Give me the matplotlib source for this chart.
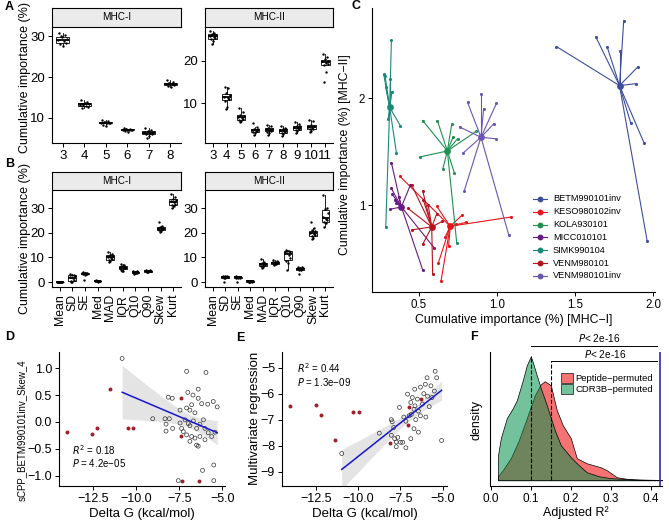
import numpy as np
import matplotlib
matplotlib.use("Agg")
import matplotlib.pyplot as plt
from matplotlib.lines import Line2D
from matplotlib.patches import Patch

plt.rcParams['font.family'] = ['Liberation Sans', 'DejaVu Sans']
plt.rcParams['axes.linewidth'] = 0.8

# ---------------- data ----------------
a1_cats = ["3", "4", "5", "6", "7", "8"]
a1_vals = [
    [30.8, 30.2, 29.7, 29.2, 29.0, 28.7, 28.3, 28.0, 27.5, 29.9],
    [14.3, 13.8, 13.5, 13.4, 13.2, 13.0, 12.8, 12.5, 13.6, 13.1],
    [9.5, 9.2, 9.0, 8.9, 8.9, 8.8, 8.7, 8.2, 8.0, 9.1],
    [7.6, 7.3, 7.2, 7.1, 7.1, 7.0, 7.0, 6.8, 6.6, 7.2],
    [7.5, 7.0, 6.8, 6.6, 6.5, 6.4, 6.2, 6.0, 5.5, 5.2],
    [19.2, 18.8, 18.6, 18.4, 18.3, 18.2, 18.0, 17.8, 17.5, 18.5],
]
a2_cats = ["3", "4", "5", "6", "7", "8", "9", "10", "11"]
a2_vals = [
    [26.9, 26.5, 26.2, 26.0, 25.8, 25.6, 25.4, 25.0, 24.5, 24.0],
    [13.8, 13.5, 12.3, 11.8, 11.5, 11.2, 11.0, 10.6, 9.0, 8.7],
    [8.9, 7.8, 7.3, 7.0, 6.8, 6.5, 6.2, 6.0, 5.7, 5.5],
    [5.4, 4.3, 4.0, 3.8, 3.7, 3.5, 3.4, 3.2, 3.0, 2.6],
    [4.8, 4.5, 4.2, 4.0, 3.8, 3.7, 3.5, 3.3, 3.0, 2.5],
    [4.6, 4.2, 4.0, 3.8, 3.6, 3.4, 3.2, 3.0, 2.7, 2.2],
    [5.6, 5.0, 4.7, 4.5, 4.3, 4.1, 3.9, 3.7, 3.5, 3.0],
    [6.0, 5.8, 4.8, 4.6, 4.4, 4.2, 4.0, 3.8, 3.5, 3.2],
    [21.5, 20.8, 20.3, 20.0, 19.8, 19.5, 19.2, 19.0, 17.2, 14.9],
]
b_cats = ["Mean", "SD", "SE", "Med", "MAD", "IQR", "Q10", "Q90", "Skew", "Kurt"]
b1_vals = [
    [0.1, 0.05, 0.0, 0.0, 0.0, 0.0, 0.0, 0.0, -0.05, 0.1],
    [3.2, 3.0, 2.8, 2.6, 2.0, 1.5, 0.8, 0.4, 0.2, 0.1],
    [3.9, 3.7, 3.6, 3.5, 3.5, 3.4, 3.3, 3.2, 3.0, 1.0],
    [0.8, 0.6, 0.5, 0.5, 0.4, 0.4, 0.3, 0.3, 0.2, 0.6],
    [12.3, 11.5, 10.9, 10.5, 10.2, 9.8, 9.5, 9.0, 8.6, 8.0],
    [7.5, 7.0, 6.5, 6.2, 6.0, 5.8, 5.5, 5.0, 4.6, 4.4],
    [4.6, 4.4, 4.2, 4.1, 4.0, 3.9, 3.8, 3.7, 3.5, 3.3],
    [4.9, 4.7, 4.6, 4.5, 4.5, 4.4, 4.3, 4.2, 4.1, 4.0],
    [24.5, 22.8, 22.3, 22.0, 21.8, 21.6, 21.4, 21.0, 20.6, 20.2],
    [35.6, 34.5, 33.8, 33.3, 32.8, 32.3, 31.8, 31.2, 30.8, 30.2],
]
b2_vals = [
    [],
    [2.6, 2.4, 2.3, 2.2, 2.1, 2.0, 1.9, 1.8, 1.6, 0.0],
    [2.3, 2.2, 2.1, 2.0, 2.0, 1.9, 1.8, 1.7, 1.5, 0.1],
    [0.5, 0.4, 0.4, 0.3, 0.3, 0.3, 0.2, 0.2, 0.2, 0.1],
    [9.2, 8.3, 7.8, 7.5, 7.3, 7.1, 6.8, 6.5, 6.0, 5.5],
    [9.0, 8.6, 8.3, 8.1, 8.0, 7.8, 7.6, 7.4, 7.2, 6.8],
    [13.0, 12.7, 12.5, 12.3, 12.0, 11.0, 9.8, 8.5, 7.8, 4.9],
    [6.3, 6.0, 5.8, 5.6, 5.5, 5.4, 5.2, 5.0, 4.8, 3.1],
    [24.4, 22.0, 21.0, 20.5, 20.0, 19.6, 19.2, 18.5, 17.8, 17.5],
    [35.2, 30.0, 29.6, 27.8, 26.5, 25.5, 25.0, 24.3, 23.8, 22.5],
]

c_names = ["BETM990101inv", "KESO980102inv", "KOLA930101", "MICC010101",
           "SIMK990104", "VENM980101", "VENM980101inv"]
c_colors = ["#3C4E9E", "#E8141C", "#1E9150", "#6A1A84", "#178A7A", "#B5121B", "#6B55B2"]
c_cx = [1.783, 0.70, 0.682, 0.388, 0.313, 0.582, 0.897]
c_cy = [2.116, 0.803, 1.506, 0.984, 1.9125, 0.797, 1.634]
c_px = [
    [1.38, 1.631, 1.704, 1.783, 1.81, 1.90, 1.886, 1.854, 1.94, 1.96],
    [0.378, 1.09, 0.80, 0.775, 0.667, 0.642, 0.624, 0.614, 0.69, 0.74],
    [0.524, 0.618, 0.71, 0.72, 0.747, 0.867, 0.506, 0.652, 0.727, 0.742],
    [0.324, 0.324, 0.33, 0.345, 0.356, 0.318, 0.446, 0.597, 0.524, 0.37],
    [0.275, 0.283, 0.288, 0.324, 0.313, 0.328, 0.303, 0.382, 0.356, 0.288],
    [0.524, 0.453, 0.528, 0.453, 0.524, 0.588, 0.614, 0.43, 0.56, 0.65],
    [0.897, 0.811, 0.914, 0.996, 0.979, 0.76, 0.99, 0.785, 0.79, 1.075],
]
c_py = [
    [2.48, 2.572, 2.478, 2.44, 2.72, 2.29, 2.134, 1.77, 1.58, 0.666],
    [1.27, 0.89, 0.84, 0.906, 0.70, 0.297, 0.46, 0.99, 0.62, 0.82],
    [1.79, 1.79, 1.756, 1.64, 1.62, 1.69, 1.45, 1.334, 1.30, 0.647],
    [1.397, 1.156, 1.10, 1.05, 1.02, 0.963, 1.19, 0.603, 0.397, 1.08],
    [2.22, 2.21, 2.10, 2.54, 2.18, 2.06, 1.80, 1.74, 1.49, 0.797],
    [1.134, 1.19, 1.05, 0.77, 0.634, 0.36, 0.92, 0.97, 1.00, 0.85],
    [2.04, 1.96, 1.90, 1.95, 1.76, 1.73, 1.62, 1.49, 1.134, 0.72],
]

d_red_x = [-14.0, -12.56, -12.27, -11.5, -10.47, -10.15, -7.4, -7.4, -7.36, -6.34]
d_red_y = [-0.19, -0.23, -0.12, 0.62, -0.12, -0.12, 0.45, -0.27, -1.09, -1.09]
d_open_x = [-10.8, -9.03, -8.32, -8.07, -8.26, -8.26, -7.88, -7.45, -7.36, -7.45,
            -7.07, -6.88, -6.78, -6.59, -6.4, -6.2, -5.85, -5.53, -7.16, -6.97,
            -6.88, -6.68, -6.49, -6.3, -6.1, -6.01, -5.82, -6.3, -6.59, -6.88,
            -6.49, -6.4, -6.01, -5.62, -5.43, -7.07, -7.26, -6.78, -8.13, -7.9,
            -7.07, -5.95, -6.4, -7.55, -5.5, -6.15, -5.5, -5.3, -6.7, -7.0]
d_open_y = [1.18, 0.06, 0.06, 0.06, -0.04, -0.17, -0.12, -0.02, -0.12, 0.22,
            0.26, 0.22, 0.32, 0.17, 0.44, 0.34, 0.33, 0.38, 0.04, -0.03,
            -0.07, 0.02, -0.12, -0.04, 0.04, -0.12, -0.2, -0.27, -0.3, -0.36,
            -0.43, -0.45, -0.33, -0.27, -0.19, -0.24, -0.18, -0.27, 0.46, 0.44,
            0.94, 0.92, 0.61, -1.09, -1.09, -0.9, -0.8, 0.28, 0.5, 0.55]

e_red_x = [-14.03, -12.5, -12.21, -11.35, -10.28, -9.95, -8.1, -7.08, -7.0, -6.3]
e_red_y = [-6.47, -6.44, -6.82, -7.8, -6.71, -6.71, -7.89, -7.2, -6.53, -6.2]
e_open_x = [-10.97, -8.75, -8.04, -7.99, -8.04, -7.84, -7.75, -7.66, -7.5, -7.37,
            -7.18, -7.75, -7.56, -7.18, -6.98, -6.89, -6.86, -6.7, -6.64, -6.5,
            -6.44, -6.32, -6.7, -6.44, -6.89, -5.45, -5.93, -5.36, -6.03, -5.7,
            -6.32, -6.66, -7.08, -6.8, -6.12, -5.64, -5.07, -6.2, -5.9, -6.0,
            -7.3, -6.6, -5.8, -5.5, -7.9]
e_open_y = [-8.3, -7.52, -7.0, -7.08, -7.6, -7.73, -7.86, -7.68, -7.87, -7.87,
            -8.08, -8.04, -6.53, -7.06, -6.85, -6.34, -6.8, -6.6, -6.47, -6.21,
            -6.67, -6.85, -7.35, -7.48, -7.73, -5.14, -5.39, -5.39, -5.64, -5.7,
            -5.75, -5.83, -6.02, -6.15, -6.0, -6.15, -7.8, -6.4, -6.1, -6.9,
            -6.9, -7.0, -6.5, -5.9, -7.3]

f_green_x = [0.018, 0.018, 0.025, 0.04, 0.055, 0.065, 0.08, 0.09, 0.1, 0.105, 0.115,
             0.125, 0.14, 0.16, 0.175, 0.2, 0.22, 0.24, 0.27, 0.3, 0.35, 0.42]
f_green_d = [0, 1.56, 2.63, 3.88, 4.5, 5.0, 6.25, 7.19, 7.75, 7.38, 6.56,
             5.75, 4.69, 3.13, 2.19, 1.44, 0.94, 0.5, 0.25, 0.13, 0.06, 0.02]
f_red_x = [0.018, 0.018, 0.03, 0.05, 0.07, 0.09, 0.11, 0.125, 0.135, 0.15, 0.165, 0.18,
           0.2, 0.215, 0.24, 0.275, 0.29, 0.315, 0.34, 0.37, 0.43]
f_red_d = [0, 0.25, 0.63, 1.38, 2.5, 3.88, 5.31, 6.0, 6.19, 5.94, 4.38, 3.44,
           2.63, 1.38, 1.06, 0.81, 0.63, 0.19, 0.09, 0.03, 0]
f_means = [0.15, 0.10]
f_observed = 0.423
f_labels = ["Peptide\u2212permuted", "CDR3B\u2212permuted"]

# ---------------- layout helpers ----------------
W, H = 669, 521
fig = plt.figure(figsize=(W / 100, H / 100), dpi=100)


def fx(x):
    return x / W


def fy(y):
    return 1 - y / H


def ax_px(x0, y0, x1, y1, **kw):
    return fig.add_axes([x0 / W, 1 - y1 / H, (x1 - x0) / W, (y1 - y0) / H], **kw)


def classic(ax, fs=10):
    for s in ("top", "right"):
        ax.spines[s].set_visible(False)
    ax.tick_params(length=3, width=0.7, labelsize=fs, pad=2, colors='black')


def strip(x0, y0, x1, y1, text):
    s = ax_px(x0, y0, x1, y1)
    s.set_facecolor('#EBEBEB')
    for sp in s.spines.values():
        sp.set_linewidth(0.8)
    s.set_xticks([]); s.set_yticks([])
    s.text(0.5, 0.5, text, ha='center', va='center', fontsize=7.2, transform=s.transAxes)


JIT = np.array([-0.16, 0.12, -0.04, 0.2, -0.2, 0.06, 0.16, -0.11, 0.02, -0.08])


def box_panel(ax, cats, groups, ylim, yticks, rot=False, fs=9.5, yfs=9.5):
    pos = np.arange(1, len(cats) + 1)
    dp = [p for p, g in zip(pos, groups) if len(g)]
    dd = [g for g in groups if len(g)]
    ax.boxplot(dd, positions=dp, widths=0.62, showfliers=False, showcaps=False,
               patch_artist=True,
               boxprops=dict(facecolor='white', edgecolor='black', linewidth=0.6),
               medianprops=dict(color='black', linewidth=1.3),
               whiskerprops=dict(color='black', linewidth=0.6))
    for p, g in zip(dp, dd):
        ax.scatter(p + JIT[:len(g)], g, s=3, color='black', zorder=3, lw=0)
    ax.set_xlim(0.4, len(cats) + 0.6)
    ax.set_ylim(*ylim)
    ax.set_yticks(yticks)
    ax.set_xticks(pos)
    classic(ax, yfs)
    ax.set_xticklabels(cats, rotation=90 if rot else 0, fontsize=fs)


# ---------------- Panel A ----------------
axA1 = ax_px(52, 27, 181, 143)
box_panel(axA1, a1_cats, a1_vals, (3.9, 32.2), [10, 20, 30])
axA1.set_xlim(0.5, 6.5)
strip(52, 8, 181, 27, "MHC-I")
axA2 = ax_px(205, 27, 333, 143)
box_panel(axA2, a2_cats, a2_vals, (0.6, 27.9), [10, 20])
axA2.set_xlim(0.45, 9.55)
strip(205, 8, 333, 27, "MHC-II")
fig.text(fx(25), fy(78), "Cumulative importance (%)", rotation=90,
         ha='center', va='center', fontsize=9)

# ---------------- Panel B ----------------
axB1 = ax_px(52, 190, 181, 287)
box_panel(axB1, b_cats, b1_vals, (-2.0, 37.3), [0, 10, 20, 30], rot=True, fs=8.8)
strip(52, 172, 181, 190, "MHC-I")
axB2 = ax_px(205, 190, 333, 287)
box_panel(axB2, b_cats, b2_vals, (-2.0, 37.3), [0, 10, 20, 30], rot=True, fs=8.8)
strip(205, 172, 333, 190, "MHC-II")
fig.text(fx(25), fy(238), "Cumulative importance (%)", rotation=90,
         ha='center', va='center', fontsize=9)

# ---------------- Panel C ----------------
axC = ax_px(372, 8, 655, 292)
for name, col, cx, cy, px, py in zip(c_names, c_colors, c_cx, c_cy, c_px, c_py):
    for x, y in zip(px, py):
        axC.plot([cx, x], [cy, y], color=col, lw=0.8, zorder=2)
    axC.scatter(px, py, s=5, color=col, zorder=3, lw=0)
    axC.scatter([cx], [cy], s=24, color=col, zorder=4, lw=0)
axC.set_xlim(0.2, 2.01)
axC.set_ylim(0.19, 2.84)
axC.set_xticks([0.5, 1.0, 1.5, 2.0])
axC.set_yticks([1, 2])
classic(axC, 8.3)
axC.set_xlabel("Cumulative importance (%) [MHC\u2212I]", fontsize=8.8, labelpad=2)
fig.text(fx(345), fy(155), "Cumulative importance (%) [MHC\u2212II]", rotation=90,
         ha='center', va='center', fontsize=8.8)
for i, (name, col) in enumerate(zip(c_names, c_colors)):
    yy = fy(199 + 12.8 * i)
    fig.add_artist(Line2D([fx(533), fx(547)], [yy, yy], color=col, lw=0.8))
    fig.add_artist(Line2D([fx(540)], [yy], color=col, marker='o', markersize=3.2, lw=0))
    fig.text(fx(553), yy, name, fontsize=6.6, va='center', ha='left')


# ---------------- Panel D / E ----------------
def reg_panel(ax, ox, oy, rx, ry, xlim, ylim, yticks):
    ox = np.asarray(ox); oy = np.asarray(oy)
    b, a = np.polyfit(ox, oy, 1)
    xs = np.linspace(ox.min(), ox.max(), 100)
    n = len(ox)
    res = oy - (a + b * ox)
    s = np.sqrt(np.sum(res ** 2) / (n - 2))
    sxx = np.sum((ox - ox.mean()) ** 2)
    se = s * np.sqrt(1 / n + (xs - ox.mean()) ** 2 / sxx)
    yh = a + b * xs
    ax.fill_between(xs, yh - 1.99 * se, yh + 1.99 * se, color='#D3D3D3', alpha=0.6, lw=0, zorder=1)
    ax.scatter(ox, oy, s=8, facecolors='none', edgecolors='#333333', linewidths=0.5, zorder=2)
    ax.scatter(rx, ry, s=8, color='#9E1F2A', lw=0, zorder=3)
    ax.plot(xs, yh, color='#1616D0', lw=1.1, zorder=4)
    ax.set_xlim(*xlim)
    ax.set_ylim(*ylim)
    ax.set_xticks([-12.5, -10.0, -7.5, -5.0])
    ax.set_xticklabels(["\u221212.5", "\u221210.0", "\u22127.5", "\u22125.0"])
    ax.set_yticks(yticks)
    classic(ax, 9)
    ax.set_xlabel("Delta G (kcal/mol)", fontsize=9.5, labelpad=2)


axD = ax_px(59, 352, 225, 486)
reg_panel(axD, d_open_x, d_open_y, d_red_x, d_red_y, (-14.45, -4.85), (-1.19, 1.3),
          [-1.0, -0.5, 0.0, 0.5, 1.0])
axD.set_yticklabels(["\u22121.0", "\u22120.5", "0.0", "0.5", "1.0"])
fig.text(fx(22), fy(430), "sCPP_BETM990101inv_Skew_4", rotation=90,
         ha='center', va='center', fontsize=7)
axD.text(0.08, 0.235, r"$\it{R}^2$ = 0.18", transform=axD.transAxes, fontsize=7)
axD.text(0.08, 0.145, r"$\it{P}$ = 4.2e" + "\u221205", transform=axD.transAxes, fontsize=7)

axE = ax_px(282, 352, 447, 486)
reg_panel(axE, e_open_x, e_open_y, e_red_x, e_red_y, (-14.5, -4.75), (-9.55, -4.4),
          [-9, -8, -7, -6, -5])
axE.set_yticklabels(["\u22129", "\u22128", "\u22127", "\u22126", "\u22125"])
fig.text(fx(255), fy(418), "Multivariate regression", rotation=90,
         ha='center', va='center', fontsize=9.5)
axE.text(0.09, 0.84, r"$\it{R}^2$ = 0.44", transform=axE.transAxes, fontsize=7)
axE.text(0.09, 0.75, r"$\it{P}$ = 1.3e" + "\u221209", transform=axE.transAxes, fontsize=7)

# ---------------- Panel F ----------------
axF = ax_px(490, 352, 662, 486)
red_fc = (0.94, 0.0, 0.0, 0.55)
grn_fc = (0.0, 0.57, 0.29, 0.55)
axF.fill_between(f_red_x, 0, f_red_d, facecolor=red_fc, edgecolor='black', lw=0.5, zorder=2)
axF.fill_between(f_green_x, 0, f_green_d, facecolor=grn_fc, edgecolor='black', lw=0.5, zorder=3)
axF.set_xlim(-0.002, 0.428)
axF.set_ylim(-0.36, 8.02)
axF.axvline(f_observed, color='#2A2AB0', lw=1.2, zorder=4)
top1, top2 = 8.4, 7.45
axF.plot([f_means[1], f_means[1]], [0, 7.75], ls='--', color='black', lw=0.8, zorder=5)
axF.plot([f_means[0], f_means[0]], [0, top2], ls='--', color='black', lw=0.8, zorder=5)
axF.plot([f_means[1], 0.415], [top1, top1], color='black', lw=0.7, clip_on=False)
axF.plot([f_means[0], 0.415], [top2, top2], color='black', lw=0.7, clip_on=False)
axF.text(0.27, top1 + 0.1, r"$\it{P}$< 2e-16", ha='center', va='bottom', fontsize=7.3)
axF.text(0.285, top2 + 0.1, r"$\it{P}$< 2e-16", ha='center', va='bottom', fontsize=7.3)
axF.set_xticks([0.0, 0.1, 0.2, 0.3, 0.4])
axF.set_yticks([])
classic(axF, 8.5)
fig.text(fx(477), fy(420), "density", rotation=90, ha='center', va='center', fontsize=9)
fig.text(fx(576), fy(513), "Adjusted R\u00b2", ha='center', va='center', fontsize=9)
lh = [Patch(facecolor=red_fc, edgecolor='#333333', lw=0.6),
      Patch(facecolor=grn_fc, edgecolor='#333333', lw=0.6)]
fig.legend(lh, f_labels, loc='upper left', bbox_to_anchor=(fx(561), fy(373)), frameon=False,
           fontsize=6.8, handlelength=1.25, handleheight=1.25, labelspacing=0.12,
           handletextpad=0.25, borderaxespad=0, borderpad=0)

# ---------------- panel letters ----------------
for lab, x, y in [("A", 5, 7), ("B", 5, 164), ("C", 352, 6), ("D", 5, 337),
                  ("E", 236, 338), ("F", 470, 337)]:
    fig.text(x / W, 1 - y / H, lab, fontsize=9, fontweight='bold', ha='left', va='center')

fig.savefig("out.png", dpi=100)
